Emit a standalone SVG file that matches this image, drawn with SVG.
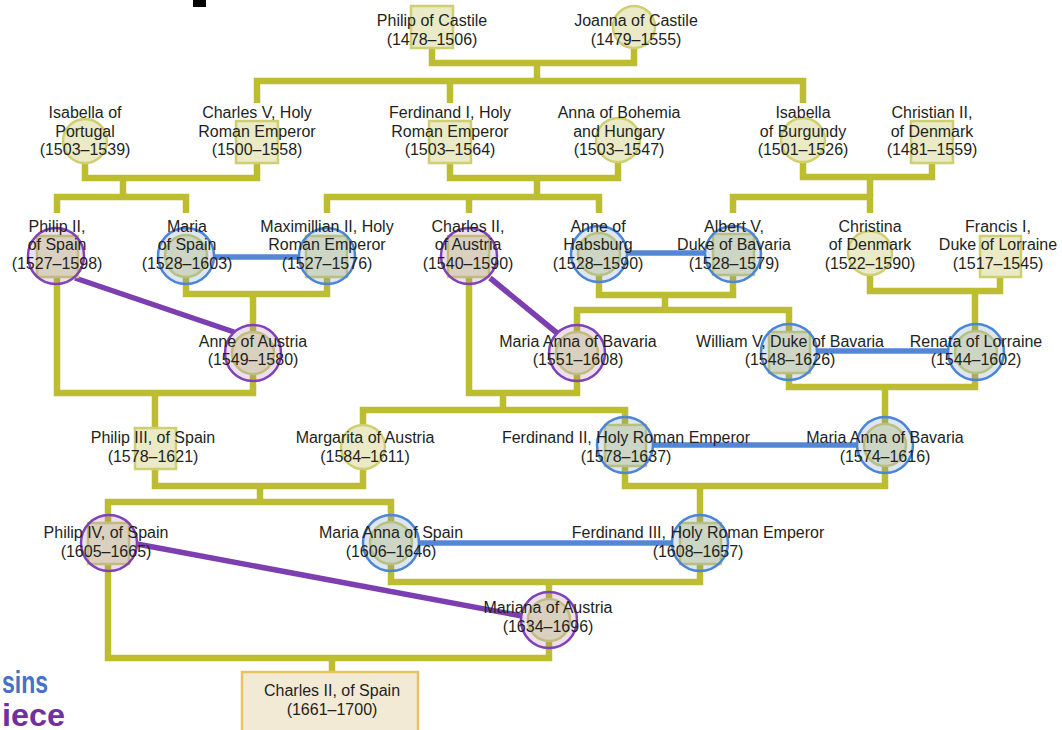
<svg xmlns="http://www.w3.org/2000/svg" width="1062" height="730" viewBox="0 0 1062 730">
<style>
.c{fill:none;stroke:#bcbd30;stroke-width:6.5;stroke-linejoin:miter;stroke-linecap:butt}
.bl{stroke:#5387d6;stroke-width:5.5;fill:none}
.pl{stroke:#7d3fb0;stroke-width:5.5;fill:none}
.y{fill:#eaeac6;stroke:#cfcf72;stroke-width:2.5}
.ob{fill:#5a82be;fill-opacity:0.2;stroke:#4a85d8;stroke-width:2.5}
.op{fill:#9b6aa8;fill-opacity:0.2;stroke:#8040b8;stroke-width:2.5}
text{font-family:"Liberation Sans",Arial,Helvetica,sans-serif;font-size:16px;fill:#231f20;text-anchor:middle}
.leg{font-weight:bold;font-size:32px;text-anchor:start}
</style>
<rect x="193" y="0" width="13" height="7" fill="#000"/>
<g id="connectors">
<path class="c" d="M432,27 V63 H634 V27"/>
<path class="c" d="M537,63 V81"/>
<path class="c" d="M257,103 V81 H803 V103"/>
<path class="c" d="M450,81 V103"/>
<path class="c" d="M85,141 V178 H257 V142"/>
<path class="c" d="M123,178 V197"/>
<path class="c" d="M57,213 V197 H186 V213"/>
<path class="c" d="M450,142 V178 H618 V140"/>
<path class="c" d="M537,178 V197"/>
<path class="c" d="M327,213 V197 H599 V213"/>
<path class="c" d="M469,197 V213"/>
<path class="c" d="M803,140 V177 H932 V142"/>
<path class="c" d="M870,177 V197"/>
<path class="c" d="M733,213 V197 H870 V213"/>
<path class="c" d="M186,256 V294 H327 V256"/>
<path class="c" d="M253,294 V353"/>
<path class="c" d="M57,256 V393 H253 V353"/>
<path class="c" d="M155,393 V448"/>
<path class="c" d="M469,256 V393 H577 V353"/>
<path class="c" d="M503,393 V410"/>
<path class="c" d="M599,254 V295 H733 V254"/>
<path class="c" d="M665,295 V310"/>
<path class="c" d="M577,353 V310 H789 V352"/>
<path class="c" d="M870,253 V291 H1000 V256"/>
<path class="c" d="M975,291 V352"/>
<path class="c" d="M789,352 V387 H975 V352"/>
<path class="c" d="M885,387 V445"/>
<path class="c" d="M363,447 V410 H625 V445"/>
<path class="c" d="M155,448 V486 H363 V447"/>
<path class="c" d="M260,486 V502"/>
<path class="c" d="M108,543 V502 H391 V543"/>
<path class="c" d="M625,445 V486 H885 V445"/>
<path class="c" d="M700,486 V543"/>
<path class="c" d="M391,543 V582 H700 V543"/>
<path class="c" d="M549,582 V620"/>
<path class="c" d="M108,543 V658 H549 V620"/>
<path class="c" d="M332,658 V672"/>
<line class="bl" x1="213" y1="257" x2="299" y2="257"/>
<line class="bl" x1="627" y1="253" x2="705" y2="253"/>
<line class="bl" x1="817" y1="351" x2="948" y2="351"/>
<line class="bl" x1="653" y1="445" x2="857" y2="445"/>
<line class="bl" x1="419" y1="543" x2="672" y2="543"/>
<line class="pl" x1="75" y1="278" x2="234" y2="332"/>
<line class="pl" x1="490" y1="278" x2="557" y2="333"/>
<line class="pl" x1="137" y1="544" x2="522" y2="616"/>
</g>
<g id="philip-of-castile"><rect class="y" x="411" y="6" width="42" height="42"/><text x="432" y="26">Philip of Castile</text><text x="432" y="45">(1478–1506)</text></g>
<g id="joanna-of-castile"><circle class="y" cx="634" cy="27" r="21"/><text x="636" y="26">Joanna of Castile</text><text x="636" y="45">(1479–1555)</text></g>
<g id="isabella-of-portugal"><circle class="y" cx="85" cy="141" r="22"/><text x="85" y="118">Isabella of</text><text x="85" y="137">Portugal</text><text x="85" y="155">(1503–1539)</text></g>
<g id="charles-v"><rect class="y" x="236" y="121" width="42" height="42"/><text x="257" y="118">Charles V, Holy</text><text x="257" y="137">Roman Emperor</text><text x="257" y="155">(1500–1558)</text></g>
<g id="ferdinand-i"><rect class="y" x="429" y="121" width="42" height="42"/><text x="450" y="118">Ferdinand I, Holy</text><text x="450" y="137">Roman Emperor</text><text x="450" y="155">(1503–1564)</text></g>
<g id="anna-of-bohemia"><circle class="y" cx="618" cy="140" r="22"/><text x="619" y="118">Anna of Bohemia</text><text x="619" y="137">and Hungary</text><text x="619" y="155">(1503–1547)</text></g>
<g id="isabella-of-burgundy"><circle class="y" cx="803" cy="140" r="22"/><text x="803" y="118">Isabella</text><text x="803" y="137">of Burgundy</text><text x="803" y="155">(1501–1526)</text></g>
<g id="christian-ii"><rect class="y" x="911" y="121" width="42" height="42"/><text x="932" y="118">Christian II,</text><text x="932" y="137">of Denmark</text><text x="932" y="155">(1481–1559)</text></g>
<g id="philip-ii"><rect class="y" x="37" y="236" width="41" height="41"/><circle class="op" cx="56" cy="256" r="28"/><text x="57" y="232">Philip II,</text><text x="57" y="250">of Spain</text><text x="57" y="269">(1527–1598)</text></g>
<g id="maria-of-spain"><circle class="y" cx="186" cy="256" r="21"/><circle class="ob" cx="186" cy="256" r="28"/><text x="187" y="232">Maria</text><text x="187" y="250">of Spain</text><text x="187" y="269">(1528–1603)</text></g>
<g id="maximillian-ii"><rect class="y" x="306" y="236" width="41" height="41"/><circle class="ob" cx="327" cy="256" r="28"/><text x="327" y="232">Maximillian II, Holy</text><text x="327" y="250">Roman Emperor</text><text x="327" y="269">(1527–1576)</text></g>
<g id="charles-ii-of-austria"><rect class="y" x="448" y="236" width="41" height="41"/><circle class="op" cx="469" cy="256" r="28"/><text x="468" y="232">Charles II,</text><text x="468" y="250">of Austria</text><text x="468" y="269">(1540–1590)</text></g>
<g id="anne-of-habsburg"><circle class="y" cx="599" cy="254" r="21"/><circle class="ob" cx="599" cy="254" r="28"/><text x="598" y="232">Anne of</text><text x="598" y="250">Habsburg</text><text x="598" y="269">(1528–1590)</text></g>
<g id="albert-v"><rect class="y" x="713" y="234" width="41" height="41"/><circle class="ob" cx="733" cy="254" r="28"/><text x="734" y="232">Albert V,</text><text x="734" y="250">Duke of Bavaria</text><text x="734" y="269">(1528–1579)</text></g>
<g id="christina-of-denmark"><circle class="y" cx="870" cy="253" r="22"/><text x="870" y="232">Christina</text><text x="870" y="250">of Denmark</text><text x="870" y="269">(1522–1590)</text></g>
<g id="francis-i"><rect class="y" x="980" y="236" width="41" height="41"/><text x="998" y="232">Francis I,</text><text x="998" y="250">Duke of Lorraine</text><text x="998" y="269">(1517–1545)</text></g>
<g id="anne-of-austria"><circle class="y" cx="253" cy="353" r="21"/><circle class="op" cx="253" cy="353" r="28"/><text x="253" y="347">Anne of Austria</text><text x="253" y="365">(1549–1580)</text></g>
<g id="maria-anna-of-bavaria-1551"><circle class="y" cx="577" cy="353" r="21"/><circle class="op" cx="577" cy="353" r="28"/><text x="578" y="347">Maria Anna of Bavaria</text><text x="578" y="365">(1551–1608)</text></g>
<g id="william-v"><rect class="y" x="769" y="332" width="41" height="41"/><circle class="ob" cx="789" cy="352" r="28"/><text x="790" y="347">William V, Duke of Bavaria</text><text x="790" y="365">(1548–1626)</text></g>
<g id="renata-of-lorraine"><circle class="y" cx="976" cy="352" r="21"/><circle class="ob" cx="976" cy="352" r="28"/><text x="976" y="347">Renata of Lorraine</text><text x="976" y="365">(1544–1602)</text></g>
<g id="philip-iii"><rect class="y" x="135" y="428" width="41" height="41"/><text x="153" y="443">Philip III, of Spain</text><text x="153" y="462">(1578–1621)</text></g>
<g id="margarita-of-austria"><circle class="y" cx="363" cy="447" r="22"/><text x="365" y="443">Margarita of Austria</text><text x="365" y="462">(1584–1611)</text></g>
<g id="ferdinand-ii"><rect class="y" x="605" y="425" width="41" height="41"/><circle class="ob" cx="625" cy="445" r="28"/><text x="626" y="443">Ferdinand II, Holy Roman Emperor</text><text x="626" y="462">(1578–1637)</text></g>
<g id="maria-anna-of-bavaria-1574"><circle class="y" cx="885" cy="445" r="21"/><circle class="ob" cx="885" cy="445" r="28"/><text x="885" y="443">Maria Anna of Bavaria</text><text x="885" y="462">(1574–1616)</text></g>
<g id="philip-iv"><rect class="y" x="88" y="523" width="41" height="41"/><circle class="op" cx="109" cy="543" r="28"/><text x="106" y="538">Philip IV, of Spain</text><text x="106" y="557">(1605–1665)</text></g>
<g id="maria-anna-of-spain"><circle class="y" cx="391" cy="543" r="21"/><circle class="ob" cx="391" cy="543" r="28"/><text x="391" y="538">Maria Anna of Spain</text><text x="391" y="557">(1606–1646)</text></g>
<g id="ferdinand-iii"><rect class="y" x="680" y="523" width="41" height="41"/><circle class="ob" cx="700" cy="543" r="28"/><text x="698" y="538">Ferdinand III, Holy Roman Emperor</text><text x="698" y="557">(1608–1657)</text></g>
<g id="mariana-of-austria"><circle class="y" cx="549" cy="620" r="21"/><circle class="op" cx="549" cy="620" r="28"/><text x="548" y="613">Mariana of Austria</text><text x="548" y="632">(1634–1696)</text></g>
<g id="charles-ii-of-spain"><rect x="242" y="672" width="176" height="64" fill="#f3ead6" stroke="#e7c45e" stroke-width="2.5"/><text x="332" y="696">Charles II, of Spain</text><text x="332" y="715">(1661–1700)</text></g>
<g id="legend"><text class="leg" x="2" y="693" style="fill:#4472c4" textLength="46" lengthAdjust="spacingAndGlyphs">sins</text><text class="leg" x="2" y="726" style="fill:#7030a0" textLength="63" lengthAdjust="spacingAndGlyphs">iece</text></g>
</svg>
